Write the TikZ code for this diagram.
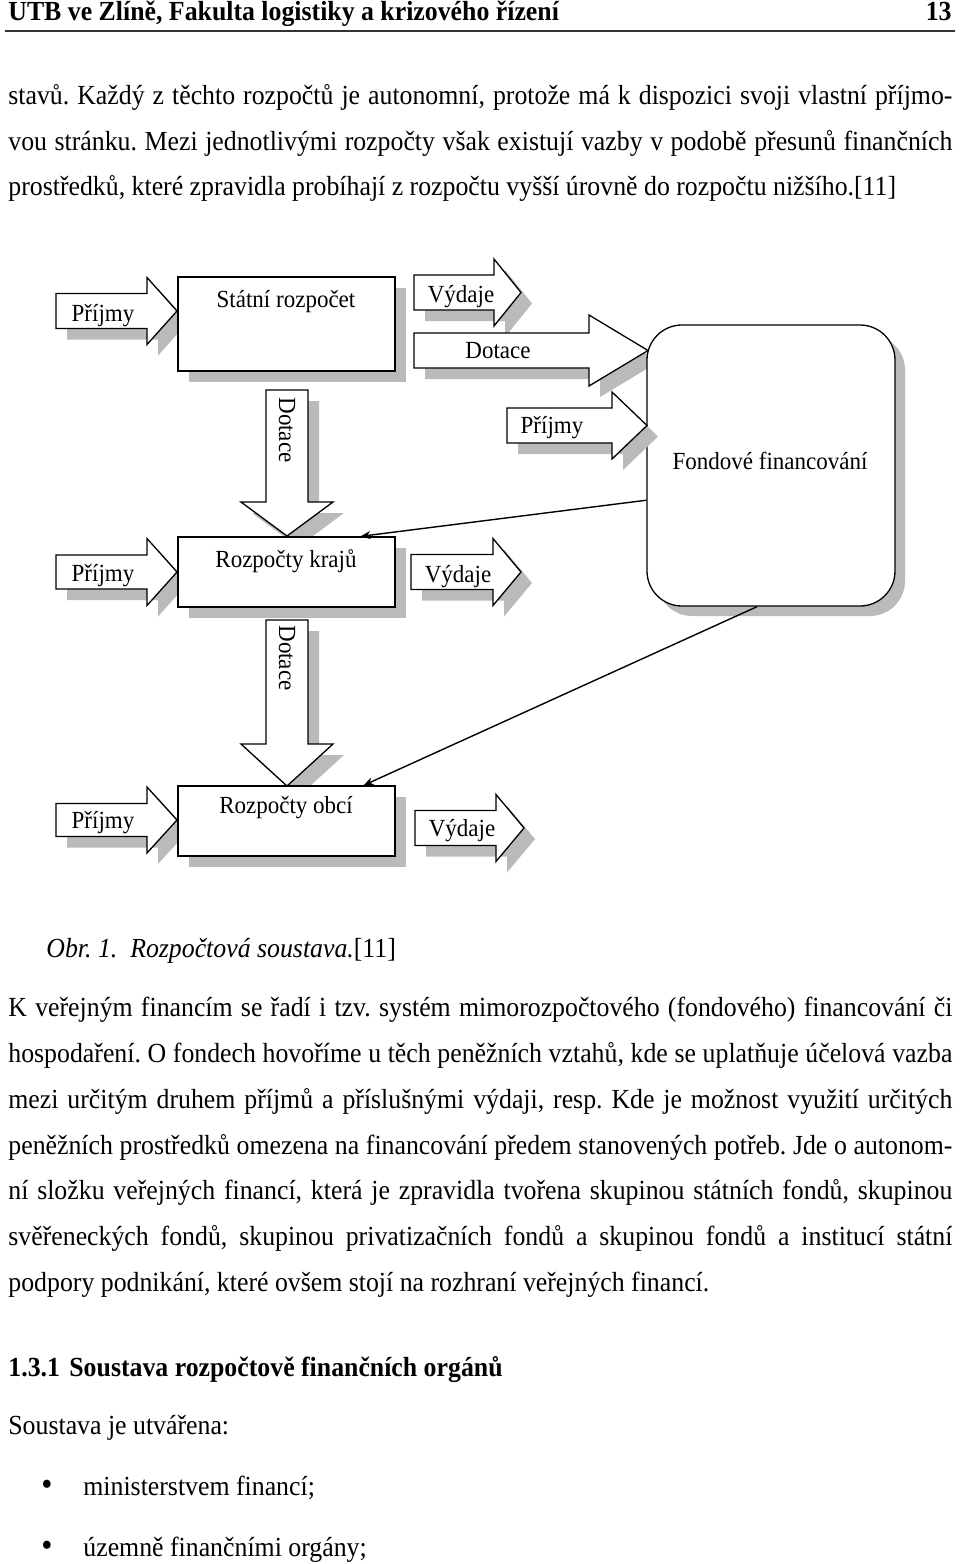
\documentclass[tikz,border=0pt]{standalone}
\usepackage{fontspec}
\setmainfont{Liberation Serif}[FakeStretch=0.935]
\usetikzlibrary{calc,fit,arrows.meta}
\frenchspacing
\tikzset{
  shp/.style={draw=black, fill=white, line width=0.65pt},
  shd/.style={fill=black!27, draw=none},
  lbl/.style={font=\fontsize{12.3pt}{14pt}\selectfont, anchor=base, inner sep=0pt},
  txt/.style={font=\fontsize{13.8pt}{16pt}\selectfont, anchor=base west, inner sep=0pt},
  bul/.style={font=\fontsize{17pt}{17pt}\selectfont, anchor=center, inner sep=0pt},
  conn/.style={draw=black, line width=0.7pt, -{Stealth[length=5pt,width=4pt]}},
}
% horizontal block arrow: x0, head base x, tip x, centre y, half body, half head
\newcommand\HArr[6]{%
  \fill[shd,shift={(11,11)}] (#1,#4-#5) -- (#2,#4-#5) -- (#2,#4-#6) -- (#3,#4) -- (#2,#4+#6) -- (#2,#4+#5) -- (#1,#4+#5) -- cycle;
  \draw[shp] (#1,#4-#5) -- (#2,#4-#5) -- (#2,#4-#6) -- (#3,#4) -- (#2,#4+#6) -- (#2,#4+#5) -- (#1,#4+#5) -- cycle;}
% vertical block arrow: centre x, y0, head base y, tip y, half body, half head
\newcommand\VArr[6]{%
  \fill[shd,shift={(11,11)}] (#1-#5,#2) -- (#1+#5,#2) -- (#1+#5,#3) -- (#1+#6,#3) -- (#1,#4) -- (#1-#6,#3) -- (#1-#5,#3) -- cycle;
  \draw[shp] (#1-#5,#2) -- (#1+#5,#2) -- (#1+#5,#3) -- (#1+#6,#3) -- (#1,#4) -- (#1-#6,#3) -- (#1-#5,#3) -- cycle;}
\newcommand\JL[1]{\makebox[472pt][s]{#1}}
\begin{document}
\begin{tikzpicture}[x=0.5pt,y=-0.5pt]
\useasboundingbox (0,0) rectangle (960,1564);
\fill[white] (0,0) rectangle (960,1564);

% header
\node[txt] (head) at (8,20) {\bfseries UTB ve Zlíně, Fakulta logistiky a krizového řízení};
\node[txt, anchor=base east] (pnum) at (952,20) {\bfseries 13};
\draw[line width=1.1pt, black!80] (5,31) -- (955,31);

% paragraph 1
\node[txt] (p1a) at (8,104) {\JL{stavů. Každý z těchto rozpočtů je autonomní, protože má k dispozici svoji vlastní příjmo-}};
\node[txt] (p1b) at (8,150) {\JL{vou stránku. Mezi jednotlivými rozpočty však existují vazby v podobě přesunů finančních}};
\node[txt] (p1c) at (8,195) {prostředků, které zpravidla probíhají z rozpočtu vyšší úrovně do rozpočtu nižšího.[11]};

% ---------- diagram ----------
% row 1
\HArr{56}{147}{177}{311}{17.5}{33.5}
\node[lbl] (pr1) at (103,321) {Příjmy};
\fill[shd] (189,288) rectangle (406,382);
\node[shp, fit={(178,277) (395,371)}, inner sep=0pt] (statni) {};
\node[lbl] (statnil) at (286,307) {Státní rozpočet};
\HArr{414}{494}{521}{292.5}{17.5}{33.5}
\node[lbl] (vy1) at (461,302) {Výdaje};
\HArr{414}{589}{648}{350.5}{17.5}{35.5}
\node[lbl] (dot0) at (498,358) {Dotace};

% fund
\fill[shd, rounded corners=17.5pt] (657,335) rectangle (905,616);
\node[shp, rounded corners=17.5pt, fit={(647,325) (895,606)}, inner sep=0pt] (fund) {};
\node[lbl] (fundl) at (770,469) {Fondové financování};
\HArr{507}{612}{647}{425.5}{17.5}{33.5}
\node[lbl] (prf) at (552,433) {Příjmy};

% vertical Dotace 1
\VArr{287}{390}{502}{536}{21}{46}
\node[lbl, rotate=-90, anchor=center] (dot1) at (287,430) {Dotace};

% row 2
\HArr{56}{147}{177}{572}{17}{33.5}
\node[lbl] (pr2) at (103,581) {Příjmy};
\fill[shd] (189,548) rectangle (406,618);
\node[shp, fit={(178,537) (395,607)}, inner sep=0pt] (kraje) {};
\node[lbl] (krajel) at (286,567) {Rozpočty krajů};
\HArr{411}{493}{521}{572}{17.5}{33.5}
\node[lbl] (vy2) at (458,582) {Výdaje};

% vertical Dotace 2
\VArr{287}{620}{744}{786}{21}{46}
\node[lbl, rotate=-90, anchor=center] (dot2) at (287,658) {Dotace};

% row 3
\HArr{56}{147}{177}{820}{16.5}{33}
\node[lbl] (pr3) at (103,828) {Příjmy};
\fill[shd] (189,797) rectangle (406,867);
\node[shp, fit={(178,786) (395,856)}, inner sep=0pt] (obce) {};
\node[lbl] (obcel) at (286,813) {Rozpočty obcí};
\HArr{415}{496}{524}{828}{17.5}{33.5}
\node[lbl] (vy3) at (462,836) {Výdaje};

% connectors
\draw[conn] ($(fund.north west)!0.623!(fund.south west)$) -- ($(kraje.north west)!0.839!(kraje.north east)$);
\draw[conn] ($(fund.south west)!0.444!(fund.south east)$) -- ($(obce.north west)!0.853!(obce.north east)$);

% caption
\node[txt] (cap) at (46,957) {\itshape Obr. 1.\ \ Rozpočtová soustava.\upshape[11]};

% paragraph 2
\node[txt] (p2a) at (8,1016) {\JL{K veřejným financím se řadí i tzv. systém mimorozpočtového (fondového) financování či}};
\node[txt] (p2b) at (8,1062) {\JL{hospodaření. O fondech hovoříme u těch peněžních vztahů, kde se uplatňuje účelová vazba}};
\node[txt] (p2c) at (8,1108) {\JL{mezi určitým druhem příjmů a příslušnými výdaji, resp. Kde je možnost využití určitých}};
\node[txt] (p2d) at (8,1154) {\JL{peněžních prostředků omezena na financování předem stanovených potřeb. Jde o autonom-}};
\node[txt] (p2e) at (8,1199) {\JL{ní složku veřejných financí, která je zpravidla tvořena skupinou státních fondů, skupinou}};
\node[txt] (p2f) at (8,1245) {\JL{svěřeneckých fondů, skupinou privatizačních fondů a skupinou fondů a institucí státní}};
\node[txt] (p2g) at (8,1291) {podpory podnikání, které ovšem stojí na rozhraní veřejných financí.};

% heading
\node[txt] (hnum) at (8,1376) {\bfseries 1.3.1};
\node[txt] (htxt) at (69,1376) {\bfseries Soustava rozpočtově finančních orgánů};
\node[txt] (sou) at (8,1434) {Soustava je utvářena:};

% bullets
\node[bul] (b1) at (47,1488) {•};
\node[txt] (l1) at (83,1495) {ministerstvem financí;};
\node[bul] (b2) at (47,1549) {•};
\node[txt] (l2) at (83,1556) {územně finančními orgány;};
\end{tikzpicture}
\end{document}
